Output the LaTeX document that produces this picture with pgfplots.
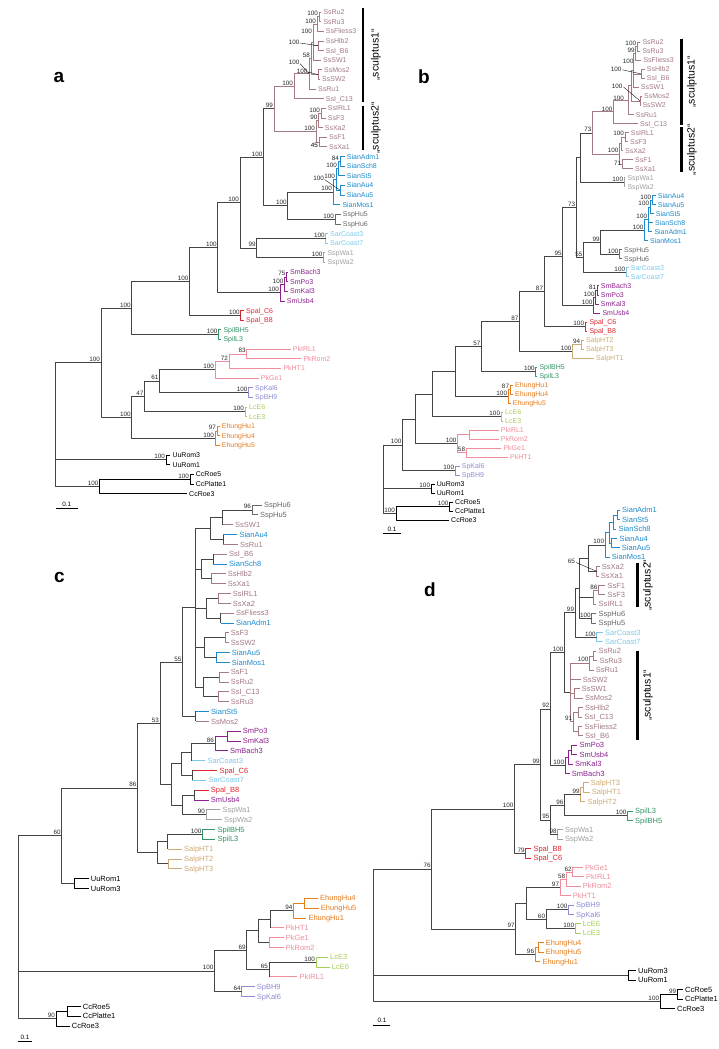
\documentclass[border=0pt]{standalone}
\usepackage{pgfplots}
\pgfplotsset{compat=1.18}
\usepackage{fontspec}
\setmainfont{Liberation Sans}
\definecolor{cSs}{RGB}{163,122,130}
\definecolor{cSian}{RGB}{28,138,204}
\definecolor{cHu}{RGB}{105,105,105}
\definecolor{cWa}{RGB}{160,160,160}
\definecolor{cSar}{RGB}{125,200,235}
\definecolor{cSm}{RGB}{140,32,140}
\definecolor{cSpal}{RGB}{226,36,46}
\definecolor{cSpil}{RGB}{48,150,100}
\definecolor{cPk}{RGB}{240,140,155}
\definecolor{cSp}{RGB}{140,140,210}
\definecolor{cLc}{RGB}{165,205,90}
\definecolor{cEh}{RGB}{232,125,30}
\definecolor{cSalp}{RGB}{205,170,115}
\definecolor{cInt}{RGB}{68,68,68}
\newcommand\fa{\fontsize{7}{8}\selectfont}
\newcommand\fc{\fontsize{7.5}{9}\selectfont}
\newcommand\fb{\fontsize{6.3}{7}\selectfont}
\newcommand{\la}[4]{\node[anchor=base west,inner sep=0pt,yshift=-2.5pt,font=\fa,text=#4] at (axis cs:#1,#2) {#3};}
\newcommand{\lc}[4]{\node[anchor=base west,inner sep=0pt,yshift=-2.7pt,font=\fc,text=#4] at (axis cs:#1,#2) {#3};}
\newcommand{\bs}[3]{\node[anchor=south east,inner sep=0pt,font=\fb,text=black!85] at (axis cs:#1,#2) {#3};}
\begin{document}
\begin{tikzpicture}
\begin{axis}[at={(0,0)},anchor=south west,width=719pt,height=1049pt,scale only axis,
 xmin=0,xmax=719,ymin=0,ymax=1049,y dir=reverse,hide axis,clip=false,unbounded coords=jump,
 every axis plot/.append style={line width=0.75pt,line join=round}]
% ================= PANEL A =================
\addplot[cSs] coordinates {
(321.3,12.0) (319,12.0) (319,21.6) (321.3,21.6) (nan,nan)
(319,16.8) (317,16.8) (317,31.3) (323.7,31.3) (nan,nan)
(323.7,40.9) (318,40.9) (318,50.5) (323.7,50.5) (nan,nan)
(317,24.1) (313,24.1) (313,60.2) (321,60.2) (nan,nan)
(313,45.7) (318,45.7) (nan,nan)
(322,69.8) (318,69.8) (318,79.4) (320,79.4) (nan,nan)
(313,42.2) (311,42.2) (311,74.6) (318,74.6) (nan,nan)
(311,58.4) (309,58.4) (309,89.0) (316,89.0) (nan,nan)
(309,73.7) (294,73.7) (294,98.7) (323.7,98.7) (nan,nan)
(325.7,108.3) (321,108.3) (321,117.9) (325.7,117.9) (nan,nan)
(321,113.1) (318.5,113.1) (318.5,127.6) (322.7,127.6) (nan,nan)
(327,137.2) (319,137.2) (319,146.8) (327,146.8) (nan,nan)
(318.5,120.4) (316,120.4) (316,142) (319,142) (nan,nan)
(294,86.2) (274,86.2) (274,131.2) (316,131.2)
};
\addplot[cSian] coordinates {
(344.7,156.5) (340,156.5) (340,166.1) (344.7,166.1) (nan,nan)
(340,161.3) (338,161.3) (338,175.7) (344.7,175.7) (nan,nan)
(344.7,185.3) (340,185.3) (340,195.0) (344.7,195.0) (nan,nan)
(338,168.5) (336,168.5) (336,190.2) (340,190.2) (nan,nan)
(336,179.4) (333,179.4) (333,204.6) (340.3,204.6)
};
\addplot[cHu] coordinates {(340.7,214.2) (335,214.2) (335,223.9) (340.7,223.9)};
\addplot[cSar] coordinates {(328,233.5) (325.7,233.5) (325.7,243.1) (328,243.1)};
\addplot[cWa] coordinates {(325.3,252.8) (323.3,252.8) (323.3,262.4) (325.3,262.4)};
\addplot[cSm] coordinates {
(288,272.0) (286.5,272.0) (286.5,281.7) (288,281.7) (nan,nan)
(286.5,276.9) (284.5,276.9) (284.5,291.3) (288,291.3) (nan,nan)
(284.5,284.1) (280,284.1) (280,300.9) (284.7,300.9)
};
\addplot[cSpal] coordinates {(244,310.6) (240.7,310.6) (240.7,320.2) (244,320.2)};
\addplot[cSpil] coordinates {(221.3,329.8) (218.3,329.8) (218.3,339.4) (221.3,339.4)};
\addplot[cPk] coordinates {
(290.7,349.1) (246.7,349.1) (246.7,358.7) (301.3,358.7) (nan,nan)
(246.7,353.9) (229,353.9) (229,368.3) (281.3,368.3) (nan,nan)
(229,361.1) (215,361.1) (215,378.0) (258.7,378.0)
};
\addplot[cSp] coordinates {(253,387.6) (248.3,387.6) (248.3,397.2) (253,397.2)};
\addplot[cLc] coordinates {(247,406.9) (245,406.9) (245,416.5) (247,416.5)};
\addplot[cEh] coordinates {
(219.7,426.1) (217,426.1) (217,435.8) (219.7,435.8) (nan,nan)
(217,431.0) (215,431.0) (215,445.4) (219.7,445.4)
};
\addplot[cInt] coordinates {
(274,108.7) (263.3,108.7) (263.3,205.6) (287.7,205.6) (nan,nan)
(333,192.0) (287.7,192.0) (287.7,219.1) (335,219.1) (nan,nan)
(263.3,157.2) (240,157.2) (240,248.0) (256.7,248.0) (nan,nan)
(325.7,238.3) (256.7,238.3) (256.7,257.6) (323.3,257.6) (nan,nan)
(240,202.6) (217.7,202.6) (217.7,292.5) (280,292.5) (nan,nan)
(217.7,247.6) (189.3,247.6) (189.3,315.4) (240.7,315.4) (nan,nan)
(189.3,281.5) (131.7,281.5) (131.7,334.6) (218.3,334.6) (nan,nan)
(131.7,308.1) (101,308.1) (101,417.3) (131.7,417.3) (nan,nan)
(144.3,396.4) (131.7,396.4) (131.7,438.2) (215,438.2) (nan,nan)
(159.3,381.0) (144.3,381.0) (144.3,411.7) (245,411.7) (nan,nan)
(215,369.6) (159.3,369.6) (159.3,392.4) (248.3,392.4) (nan,nan)
(101,362.7) (55.7,362.7) (55.7,486.3) (99.3,486.3) (nan,nan)
(55.7,459.8) (166,459.8)
};
\addplot[black] coordinates {
(190,479.1) (99.3,479.1) (99.3,493.5) (187,493.5) (nan,nan)
(193.7,474.3) (190,474.3) (190,483.9) (193.7,483.9) (nan,nan)
(170.3,455.0) (166,455.0) (166,464.6) (170.3,464.6) (nan,nan)
(55.7,508.3) (77.7,508.3)
};
\addplot[black,line width=0.35pt] coordinates {
(300,43) (318,45.7) (nan,nan) (300,63.5) (309,73.7) (nan,nan)
(308,72) (318,74.6) (nan,nan) (324.5,179.5) (340,190.2)
};
\addplot[black,line width=2.6pt] coordinates {(363,8) (363,102) (nan,nan) (363,106) (363,150)};
\node[rotate=90,font=\fontsize{10.5}{11}\selectfont] at (axis cs:376,55) {„sculptus1“};
\node[rotate=90,font=\fontsize{10.5}{11}\selectfont] at (axis cs:376,128) {„sculptus2“};
\node[font=\fontsize{19}{19}\bfseries\selectfont] at (axis cs:59,77) {a};
\node[font=\fb] at (axis cs:66.7,504) {0.1};
\la{323.3}{12.0}{SsRu2}{cSs}\la{323.3}{21.6}{SsRu3}{cSs}\la{325.7}{31.3}{SsFliess3}{cSs}
\la{325.7}{40.9}{SsHlb2}{cSs}\la{325.7}{50.5}{SsI\_B6}{cSs}\la{323}{60.2}{SsSW1}{cSs}
\la{324}{69.8}{SsMos2}{cSs}\la{322}{79.4}{SsSW2}{cSs}\la{318}{89.0}{SsRu1}{cSs}
\la{325.7}{98.7}{SsI\_C13}{cSs}\la{327.7}{108.3}{SsIRL1}{cSs}\la{327.7}{117.9}{SsF3}{cSs}
\la{324.7}{127.6}{SsXa2}{cSs}\la{329}{137.2}{SsF1}{cSs}\la{329}{146.8}{SsXa1}{cSs}
\la{346.7}{156.5}{SianAdm1}{cSian}\la{346.7}{166.1}{SianSch8}{cSian}\la{346.7}{175.7}{SianSt5}{cSian}
\la{346.7}{185.3}{SianAu4}{cSian}\la{346.7}{195.0}{SianAu5}{cSian}\la{342.3}{204.6}{SianMos1}{cSian}
\la{342.7}{214.2}{SspHu5}{cHu}\la{342.7}{223.9}{SspHu6}{cHu}
\la{330}{233.5}{SarCoast3}{cSar}\la{330}{243.1}{SarCoast7}{cSar}
\la{327.3}{252.8}{SspWa1}{cWa}\la{327.3}{262.4}{SspWa2}{cWa}
\la{290}{272.0}{SmBach3}{cSm}\la{290}{281.7}{SmPo3}{cSm}\la{290}{291.3}{SmKal3}{cSm}\la{286.7}{300.9}{SmUsb4}{cSm}
\la{246}{310.6}{Spal\_C6}{cSpal}\la{246}{320.2}{Spal\_B8}{cSpal}
\la{223.3}{329.8}{SpilBH5}{cSpil}\la{223.3}{339.4}{SpilL3}{cSpil}
\la{292.7}{349.1}{PkIRL1}{cPk}\la{303.3}{358.7}{PkRom2}{cPk}\la{283.3}{368.3}{PkHT1}{cPk}\la{260.7}{378.0}{PkGe1}{cPk}
\la{255}{387.6}{SpKal6}{cSp}\la{255}{397.2}{SpBH9}{cSp}
\la{249}{406.9}{LcE6}{cLc}\la{249}{416.5}{LcE3}{cLc}
\la{221.7}{426.1}{EhungHu1}{cEh}\la{221.7}{435.8}{EhungHu4}{cEh}\la{221.7}{445.4}{EhungHu5}{cEh}
\la{172.3}{455.0}{UuRom3}{black}\la{172.3}{464.6}{UuRom1}{black}
\la{195.7}{474.3}{CcRoe5}{black}\la{195.7}{483.9}{CcPlatte1}{black}\la{189}{493.5}{CcRoe3}{black}
\bs{318.2}{16.0}{100}\bs{316.2}{23.3}{100}\bs{299.5}{45}{100}\bs{312.2}{34}{100}\bs{310.2}{57.6}{58}
\bs{299.5}{65}{100}\bs{307.5}{73.5}{100}\bs{293.2}{85.4}{100}\bs{320.2}{112.3}{100}\bs{317.7}{119.6}{90}
\node[anchor=north east,inner sep=0pt,font=\fb] at (axis cs:318.2,142.8) {45};
\bs{315.2}{130.4}{100}\bs{273.2}{107.9}{99}\bs{339.2}{160.5}{84}\bs{337.2}{167.7}{100}\bs{324}{181}{100}
\bs{335.2}{178.6}{100}\bs{332.2}{191.2}{100}\bs{334.2}{218.3}{100}\bs{286.9}{204.8}{100}\bs{262.5}{156.4}{100}
\bs{324.9}{237.5}{100}\bs{322.5}{256.8}{100}\bs{255.9}{247.2}{99}\bs{239.2}{201.8}{100}
\bs{285.7}{276.1}{75}\bs{283.7}{283.3}{100}\bs{279.2}{291.7}{100}\bs{216.9}{246.8}{100}\bs{239.9}{314.6}{100}
\bs{188.5}{280.7}{100}\bs{217.5}{333.8}{100}\bs{130.9}{307.3}{100}\bs{245.9}{353.1}{83}\bs{228.2}{360.3}{72}
\bs{214.2}{368.8}{100}\bs{247.5}{391.6}{100}\bs{158.5}{380.2}{61}\bs{244.2}{410.9}{100}\bs{143.5}{395.6}{47}
\bs{216.2}{430.2}{97}\bs{214.2}{437.4}{100}\bs{130.9}{416.5}{100}\bs{100.2}{361.9}{100}\bs{165.2}{459}{100}
\bs{189.2}{478.3}{100}\bs{98.5}{485.5}{100}
% ================= PANEL B =================
\addplot[cSs] coordinates {
(640.3,42.3) (637,42.3) (637,51.3) (640.3,51.3) (nan,nan)
(637,46.8) (635.5,46.8) (635.5,60.3) (641.3,60.3) (nan,nan)
(644.7,69.4) (641,69.4) (641,78.4) (644.7,78.4) (nan,nan)
(635.5,53.6) (633.5,53.6) (633.5,87.4) (638.7,87.4) (nan,nan)
(633.5,73.9) (641,73.9) (nan,nan)
(642,96.4) (640,96.4) (640,105.4) (640.3,105.4) (nan,nan)
(633.5,70.5) (631,70.5) (631,100.9) (640,100.9) (nan,nan)
(631,85.7) (628,85.7) (628,114.5) (633.7,114.5) (nan,nan)
(628,100.1) (613.3,100.1) (613.3,123.5) (638,123.5) (nan,nan)
(628.7,132.5) (625,132.5) (625,141.5) (628,141.5) (nan,nan)
(625,137) (621,137) (621,150.5) (623,150.5) (nan,nan)
(633,159.6) (622,159.6) (622,168.6) (633,168.6) (nan,nan)
(621,143.8) (619.3,143.8) (619.3,164.1) (622,164.1) (nan,nan)
(613.3,111.8) (592.3,111.8) (592.3,154.0) (619.3,154.0)
};
\addplot[cWa] coordinates {(625.3,177.6) (624,177.6) (624,186.6) (625.3,186.6)};
\addplot[cSian] coordinates {
(655.7,195.6) (652,195.6) (652,204.7) (655.7,204.7) (nan,nan)
(652,200.2) (650,200.2) (650,213.7) (653.7,213.7) (nan,nan)
(650,207) (648,207) (648,231.7) (652.3,231.7) (nan,nan)
(648,222.7) (653,222.7) (nan,nan)
(648,219.4) (644.3,219.4) (644.3,240.7) (648,240.7)
};
\addplot[cHu] coordinates {(622,249.8) (619.3,249.8) (619.3,258.8) (622,258.8)};
\addplot[cSar] coordinates {(628.7,267.8) (626,267.8) (626,276.8) (628.7,276.8)};
\addplot[cSm] coordinates {
(598.7,285.8) (597,285.8) (597,294.9) (598.7,294.9) (nan,nan)
(597,290.4) (595.5,290.4) (595.5,303.9) (598.7,303.9) (nan,nan)
(595.5,297.2) (593.3,297.2) (593.3,312.9) (600.3,312.9)
};
\addplot[cSpal] coordinates {(587.3,321.9) (585,321.9) (585,330.9) (587.3,330.9)};
\addplot[cSalp] coordinates {
(584,340) (581,340) (581,349) (584,349) (nan,nan)
(581,344.5) (572.3,344.5) (572.3,358) (594,358)
};
\addplot[cSpil] coordinates {(537.3,367) (535.7,367) (535.7,376) (537.3,376)};
\addplot[cEh] coordinates {
(513,385.1) (510,385.1) (510,394.1) (513,394.1) (nan,nan)
(510,389.6) (508,389.6) (508,403.1) (510.7,403.1)
};
\addplot[cLc] coordinates {(503,412.1) (501,412.1) (501,421.1) (503,421.1)};
\addplot[cPk] coordinates {
(498.7,430.2) (469,430.2) (469,439.2) (498.7,439.2) (nan,nan)
(501.3,448.2) (466,448.2) (466,457.2) (508,457.2) (nan,nan)
(469,434.7) (457.3,434.7) (457.3,452.7) (466,452.7)
};
\addplot[cSp] coordinates {(459.7,466.2) (455,466.2) (455,475.3) (459.7,475.3)};
\addplot[cInt] coordinates {
(592.3,132.9) (580,132.9) (580,182.1) (624,182.1) (nan,nan)
(644.3,230.1) (600.7,230.1) (600.7,254.3) (619.3,254.3) (nan,nan)
(600.7,242.2) (583.3,242.2) (583.3,272.3) (626,272.3) (nan,nan)
(580,157.5) (576,157.5) (576,257.3) (583.3,257.3) (nan,nan)
(576,207.4) (562.7,207.4) (562.7,305.1) (593.3,305.1) (nan,nan)
(562.7,256.3) (544,256.3) (544,326.4) (585,326.4) (nan,nan)
(544,291.4) (519.3,291.4) (519.3,351.3) (572.3,351.3) (nan,nan)
(519.3,321.4) (481.3,321.4) (481.3,371.5) (535.7,371.5) (nan,nan)
(481.3,346.5) (455,346.5) (455,396.4) (508,396.4) (nan,nan)
(455,371.5) (432.7,371.5) (432.7,416.6) (501,416.6) (nan,nan)
(432.7,394.1) (415,394.1) (415,443.7) (457.3,443.7) (nan,nan)
(415,418.9) (402.3,418.9) (402.3,470.8) (455,470.8) (nan,nan)
(402.3,444.9) (383,444.9) (383,513.6) (396,513.6) (nan,nan)
(383,488.8) (431,488.8)
};
\addplot[black] coordinates {
(449.3,506.8) (396,506.8) (396,520.4) (449,520.4) (nan,nan)
(453,502.3) (449.3,502.3) (449.3,511.3) (453,511.3) (nan,nan)
(434.7,484.3) (431,484.3) (431,493.3) (434.7,493.3) (nan,nan)
(383,533) (401,533)
};
\addplot[black,line width=0.35pt] coordinates {(622.5,69.8) (641,73.9) (nan,nan) (623.5,87) (640,100.9)};
\addplot[black,line width=2.6pt] coordinates {(681.7,39) (681.7,125) (nan,nan) (681.7,127.3) (681.7,171.7)};
\node[rotate=90,font=\fontsize{10.5}{11}\selectfont] at (axis cs:692,82) {„sculptus1“};
\node[rotate=90,font=\fontsize{10.5}{11}\selectfont] at (axis cs:692,149.5) {„sculptus2“};
\node[font=\fontsize{19}{19}\bfseries\selectfont] at (axis cs:424,77) {b};
\node[font=\fb] at (axis cs:392,529) {0.1};
\la{642.3}{42.3}{SsRu2}{cSs}\la{642.3}{51.3}{SsRu3}{cSs}\la{643.3}{60.3}{SsFliess3}{cSs}
\la{646.7}{69.4}{SsHlb2}{cSs}\la{646.7}{78.4}{SsI\_B6}{cSs}\la{640.7}{87.4}{SsSW1}{cSs}
\la{644}{96.4}{SsMos2}{cSs}\la{642.3}{105.4}{SsSW2}{cSs}\la{635.7}{114.5}{SsRu1}{cSs}
\la{640}{123.5}{SsI\_C13}{cSs}\la{630.7}{132.5}{SsIRL1}{cSs}\la{630}{141.5}{SsF3}{cSs}
\la{625}{150.5}{SsXa2}{cSs}\la{635}{159.6}{SsF1}{cSs}\la{635}{168.6}{SsXa1}{cSs}
\la{627.3}{177.6}{SspWa1}{cWa}\la{627.3}{186.6}{SspWa2}{cWa}
\la{657.7}{195.6}{SianAu4}{cSian}\la{657.7}{204.7}{SianAu5}{cSian}\la{655.7}{213.7}{SianSt5}{cSian}
\la{655}{222.7}{SianSch8}{cSian}\la{654.3}{231.7}{SianAdm1}{cSian}\la{650}{240.7}{SianMos1}{cSian}
\la{624}{249.8}{SspHu5}{cHu}\la{624}{258.8}{SspHu6}{cHu}
\la{630.7}{267.8}{SarCoast3}{cSar}\la{630.7}{276.8}{SarCoast7}{cSar}
\la{600.7}{285.8}{SmBach3}{cSm}\la{600.7}{294.9}{SmPo3}{cSm}\la{600.7}{303.9}{SmKal3}{cSm}\la{602.3}{312.9}{SmUsb4}{cSm}
\la{589.3}{321.9}{Spal\_C6}{cSpal}\la{589.3}{330.9}{Spal\_B8}{cSpal}
\la{586}{340}{SalpHT2}{cSalp}\la{586}{349}{SalpHT3}{cSalp}\la{596}{358}{SalpHT1}{cSalp}
\la{539.3}{367}{SpilBH5}{cSpil}\la{539.3}{376}{SpilL3}{cSpil}
\la{515}{385.1}{EhungHu1}{cEh}\la{515}{394.1}{EhungHu4}{cEh}\la{512.7}{403.1}{EhungHu5}{cEh}
\la{505}{412.1}{LcE6}{cLc}\la{505}{421.1}{LcE3}{cLc}
\la{500.7}{430.2}{PkIRL1}{cPk}\la{500.7}{439.2}{PkRom2}{cPk}\la{503.3}{448.2}{PkGe1}{cPk}\la{510}{457.2}{PkHT1}{cPk}
\la{461.7}{466.2}{SpKal6}{cSp}\la{461.7}{475.3}{SpBH9}{cSp}
\la{436.7}{484.3}{UuRom3}{black}\la{436.7}{493.3}{UuRom1}{black}
\la{455}{502.3}{CcRoe5}{black}\la{455}{511.3}{CcPlatte1}{black}\la{451}{520.4}{CcRoe3}{black}
\bs{636.2}{46.0}{100}\bs{634.7}{52.8}{99}\bs{621.5}{71.5}{100}\bs{633.7}{63.5}{100}\bs{622.5}{88.5}{100}
\bs{624}{101.2}{100}\bs{612.5}{111.5}{100}\bs{624}{135.8}{100}\bs{618.5}{153.2}{100}\bs{621.2}{166}{71}
\bs{591.5}{132.1}{73}\bs{623.2}{181.3}{100}\bs{651.2}{199.4}{100}\bs{649.2}{206.2}{100}\bs{647.2}{218.6}{100}
\bs{643.5}{229.3}{100}\bs{618.5}{253.5}{100}\bs{599.9}{241.4}{99}\bs{625.2}{271.5}{100}\bs{582.5}{256.5}{55}
\bs{575.2}{206.6}{73}\bs{596.2}{289.6}{81}\bs{594.7}{296.4}{100}\bs{592.5}{304.3}{100}\bs{561.9}{255.5}{95}
\bs{584.2}{325.6}{100}\bs{543.2}{290.6}{87}\bs{580.2}{343.7}{94}\bs{571.5}{350.5}{100}\bs{518.5}{320.6}{87}
\bs{534.9}{370.7}{100}\bs{480.5}{345.7}{57}\bs{509.2}{388.8}{87}\bs{507.2}{395.6}{100}\bs{500.2}{415.8}{100}
\bs{465.2}{451.9}{58}\bs{456.5}{442.9}{100}\bs{454.2}{470}{100}\bs{401.5}{444.1}{100}\bs{430.2}{488}{100}
\bs{448.5}{506}{100}\bs{395.2}{512.8}{100}
% ================= PANEL C =================
\addplot[cHu] coordinates {(262,505.0) (252,505.0) (252,514.8) (258,514.8)};
\addplot[cSs] coordinates {
(222,524.7) (233,524.7) (nan,nan) (223.3,544.3) (238,544.3) (nan,nan)
(213.3,554.2) (227,554.2) (nan,nan) (220.7,613.1) (234,613.1) (nan,nan)
(195.7,721.3) (209,721.3) (nan,nan)
(225.7,573.8) (211.7,573.8) (211.7,583.6) (225.7,583.6) (nan,nan)
(230.7,593.5) (218.3,593.5) (218.3,603.3) (230.7,603.3) (nan,nan)
(228.7,632.8) (225,632.8) (225,642.6) (228.7,642.6) (nan,nan)
(228.7,672.1) (219.3,672.1) (219.3,681.9) (228.7,681.9) (nan,nan)
(228.7,691.8) (218.3,691.8) (218.3,701.6) (228.7,701.6)
};
\addplot[cSian] coordinates {
(223.3,534.5) (237.3,534.5) (nan,nan) (213.3,564.0) (227,564.0) (nan,nan)
(220.7,623.0) (234,623.0) (nan,nan) (195.7,711.4) (209,711.4) (nan,nan)
(229.7,652.5) (216.7,652.5) (216.7,662.3) (229.7,662.3)
};
\addplot[cSm] coordinates {
(240.7,731.1) (227.3,731.1) (227.3,740.9) (240.7,740.9) (nan,nan)
(227.3,736.0) (215,736.0) (215,750.8) (228,750.8) (nan,nan)
(194,799.9) (208.7,799.9)
};
\addplot[cSar] coordinates {(191.7,760.6) (205.3,760.6) (nan,nan) (192.3,780.2) (206.3,780.2)};
\addplot[cSpal] coordinates {(192.3,770.4) (217.3,770.4) (nan,nan) (194,790.1) (208.7,790.1)};
\addplot[cWa] coordinates {(220.3,809.7) (206,809.7) (206,819.6) (222,819.6)};
\addplot[cSpil] coordinates {(215.3,829.4) (202.3,829.4) (202.3,839.2) (215.3,839.2)};
\addplot[cSalp] coordinates {(167.7,849.0) (182,849.0) (nan,nan) (182,858.9) (168.3,858.9) (168.3,868.7) (182,868.7)};
\addplot[cEh] coordinates {
(318,898.2) (304.3,898.2) (304.3,908.0) (318.7,908.0) (nan,nan)
(304.3,903.1) (293.3,903.1) (293.3,917.9) (306.3,917.9)
};
\addplot[cPk] coordinates {
(270.7,927.7) (283.7,927.7) (nan,nan)
(283.7,937.5) (269.3,937.5) (269.3,947.3) (283.7,947.3) (nan,nan)
(269,976.8) (297.3,976.8)
};
\addplot[cLc] coordinates {(328,957.2) (316,957.2) (316,967.0) (329.7,967.0)};
\addplot[cSp] coordinates {(254.7,986.7) (241.7,986.7) (241.7,996.5) (254.7,996.5)};
\addplot[black] coordinates {
(88.7,878.5) (74.3,878.5) (74.3,888.4) (88.7,888.4) (nan,nan)
(80.7,1006.3) (67.7,1006.3) (67.7,1016.2) (80.7,1016.2) (nan,nan)
(67.7,1011.3) (56,1011.3) (56,1026.0) (69.7,1026.0) (nan,nan)
(18,1041.7) (32,1041.7)
};
\addplot[cInt] coordinates {
(223.3,534.5) (223.3,544.3) (nan,nan) (213.3,554.2) (213.3,564.0) (nan,nan)
(220.7,613.1) (220.7,623.0) (nan,nan) (195.7,711.4) (195.7,721.3) (nan,nan)
(192.3,770.4) (192.3,780.2) (nan,nan) (194,790.1) (194,799.9) (nan,nan)
(252,509.9) (222,509.9) (222,524.7) (nan,nan)
(222,517.3) (210,517.3) (210,539.4) (223.3,539.4) (nan,nan)
(213.3,559.1) (201.7,559.1) (201.7,578.7) (211.7,578.7) (nan,nan)
(218.3,598.4) (206.7,598.4) (206.7,618.1) (220.7,618.1) (nan,nan)
(225,637.7) (204.3,637.7) (204.3,657.4) (216.7,657.4) (nan,nan)
(219.3,677.0) (203.3,677.0) (203.3,696.7) (218.3,696.7) (nan,nan)
(210,528.4) (195,528.4) (195,686.9) (203.3,686.9) (nan,nan)
(195,568.9) (201.7,568.9) (nan,nan) (195,608.3) (206.7,608.3) (nan,nan) (195,647.6) (204.3,647.6) (nan,nan)
(195,607.7) (182.3,607.7) (182.3,716.4) (195.7,716.4) (nan,nan)
(215,743.4) (191.7,743.4) (191.7,760.6) (nan,nan)
(191.7,752.0) (181.7,752.0) (181.7,775.3) (192.3,775.3) (nan,nan)
(194,795.0) (182.3,795.0) (182.3,814.7) (206,814.7) (nan,nan)
(181.7,763.7) (171.7,763.7) (171.7,804.9) (182.3,804.9) (nan,nan)
(182.3,662.1) (160,662.1) (160,784.3) (171.7,784.3) (nan,nan)
(202.3,834.3) (167.7,834.3) (167.7,849.0) (nan,nan)
(167.7,841.7) (157.3,841.7) (157.3,863.8) (168.3,863.8) (nan,nan)
(160,723.2) (137.3,723.2) (137.3,852.8) (157.3,852.8) (nan,nan)
(137.3,788.0) (61.7,788.0) (61.7,883.5) (74.3,883.5) (nan,nan)
(293.3,910.5) (270.7,910.5) (270.7,927.7) (nan,nan)
(270.7,919.1) (258.3,919.1) (258.3,942.4) (269.3,942.4) (nan,nan)
(316,962.1) (269,962.1) (269,976.8) (nan,nan)
(258.3,930.8) (246.7,930.8) (246.7,969.5) (269,969.5) (nan,nan)
(246.7,950.2) (214.3,950.2) (214.3,991.6) (241.7,991.6) (nan,nan)
(61.7,835.8) (18,835.8) (18,1018.7) (56,1018.7) (nan,nan)
(18,970.9) (214.3,970.9)
};
\node[font=\fontsize{19}{19}\bfseries\selectfont] at (axis cs:59.3,577.3) {c};
\node[font=\fb] at (axis cs:25,1037.5) {0.1};
\lc{264}{505.0}{SspHu6}{cHu}\lc{260}{514.8}{SspHu5}{cHu}\lc{235}{524.7}{SsSW1}{cSs}
\lc{239.3}{534.5}{SianAu4}{cSian}\lc{240}{544.3}{SsRu1}{cSs}\lc{229}{554.2}{SsI\_B6}{cSs}
\lc{229}{564.0}{SianSch8}{cSian}\lc{227.7}{573.8}{SsHlb2}{cSs}\lc{227.7}{583.6}{SsXa1}{cSs}
\lc{232.7}{593.5}{SsIRL1}{cSs}\lc{232.7}{603.3}{SsXa2}{cSs}\lc{236}{613.1}{SsFliess3}{cSs}
\lc{236}{623.0}{SianAdm1}{cSian}\lc{230.7}{632.8}{SsF3}{cSs}\lc{230.7}{642.6}{SsSW2}{cSs}
\lc{231.7}{652.5}{SianAu5}{cSian}\lc{231.7}{662.3}{SianMos1}{cSian}\lc{230.7}{672.1}{SsF1}{cSs}
\lc{230.7}{681.9}{SsRu2}{cSs}\lc{230.7}{691.8}{SsI\_C13}{cSs}\lc{230.7}{701.6}{SsRu3}{cSs}
\lc{211}{711.4}{SianSt5}{cSian}\lc{211}{721.3}{SsMos2}{cSs}
\lc{242.7}{731.1}{SmPo3}{cSm}\lc{242.7}{740.9}{SmKal3}{cSm}\lc{230}{750.8}{SmBach3}{cSm}
\lc{207.3}{760.6}{SarCoast3}{cSar}\lc{219.3}{770.4}{Spal\_C6}{cSpal}\lc{208.3}{780.2}{SarCoast7}{cSar}
\lc{210.7}{790.1}{Spal\_B8}{cSpal}\lc{210.7}{799.9}{SmUsb4}{cSm}
\lc{222.3}{809.7}{SspWa1}{cWa}\lc{224}{819.6}{SspWa2}{cWa}
\lc{217.3}{829.4}{SpilBH5}{cSpil}\lc{217.3}{839.2}{SpilL3}{cSpil}
\lc{184}{849.0}{SalpHT1}{cSalp}\lc{184}{858.9}{SalpHT2}{cSalp}\lc{184}{868.7}{SalpHT3}{cSalp}
\lc{90.7}{878.5}{UuRom1}{black}\lc{90.7}{888.4}{UuRom3}{black}
\lc{320}{898.2}{EhungHu4}{cEh}\lc{320.7}{908.0}{EhungHu5}{cEh}\lc{308.3}{917.9}{EhungHu1}{cEh}
\lc{285.7}{927.7}{PkHT1}{cPk}\lc{285.7}{937.5}{PkGe1}{cPk}\lc{285.7}{947.3}{PkRom2}{cPk}
\lc{330}{957.2}{LcE3}{cLc}\lc{331.7}{967.0}{LcE6}{cLc}\lc{299.3}{976.8}{PkIRL1}{cPk}
\lc{256.7}{986.7}{SpBH9}{cSp}\lc{256.7}{996.5}{SpKal6}{cSp}
\lc{82.7}{1006.3}{CcRoe5}{black}\lc{82.7}{1016.2}{CcPlatte1}{black}\lc{71.7}{1026.0}{CcRoe3}{black}
\bs{251.2}{509.1}{96}\bs{181.5}{661.3}{55}\bs{214.2}{742.6}{86}\bs{205.2}{813.9}{90}\bs{159.2}{722.4}{53}
\bs{201.5}{833.5}{100}\bs{136.5}{787.2}{86}\bs{60.9}{835}{60}\bs{292.5}{909.7}{94}\bs{315.2}{961.3}{100}
\bs{268.2}{968.7}{65}\bs{245.9}{949.4}{69}\bs{240.9}{990.8}{64}\bs{213.5}{970.1}{100}\bs{55.2}{1017.9}{90}
% ================= PANEL D =================
\addplot[cSian] coordinates {
(620,510.2) (617,510.2) (617,519.6) (620,519.6) (nan,nan)
(617,514.9) (613,514.9) (613,529.0) (616.3,529.0) (nan,nan)
(617.3,538.4) (611.7,538.4) (611.7,547.8) (619.7,547.8) (nan,nan)
(613,522.0) (609.5,522.0) (609.5,543.1) (611.7,543.1) (nan,nan)
(609.5,532.6) (605,532.6) (605,557.2) (609.7,557.2)
};
\addplot[cSs] coordinates {
(599.7,566.6) (596.7,566.6) (596.7,576.0) (598.7,576.0) (nan,nan)
(605.3,585.4) (598.3,585.4) (598.3,594.8) (605.3,594.8) (nan,nan)
(598.3,590.1) (593.3,590.1) (593.3,604.2) (596.3,604.2) (nan,nan)
(596.3,651.2) (593.3,651.2) (593.3,660.6) (597.3,660.6) (nan,nan)
(593.3,655.9) (589.3,655.9) (589.3,670.0) (593.7,670.0) (nan,nan)
(579.7,688.8) (574.3,688.8) (574.3,698.2) (583,698.2) (nan,nan)
(583,707.6) (578,707.6) (578,717.0) (582.3,717.0) (nan,nan)
(582.3,726.4) (578,726.4) (578,735.8) (583,735.8) (nan,nan)
(578,712.3) (573,712.3) (573,731.1) (578,731.1) (nan,nan)
(589.3,663.0) (570,663.0) (570,721.7) (573,721.7) (nan,nan)
(570,679.4) (580.7,679.4) (nan,nan) (570,693.5) (574.3,693.5)
};
\addplot[cHu] coordinates {(596.3,613.6) (591.7,613.6) (591.7,623.0) (596.3,623.0)};
\addplot[cSar] coordinates {(603,632.4) (596.7,632.4) (596.7,641.8) (603,641.8)};
\addplot[cSm] coordinates {
(577.3,745.2) (571.7,745.2) (571.7,754.6) (577.3,754.6) (nan,nan)
(571.7,749.9) (568,749.9) (568,764.0) (573,764.0) (nan,nan)
(568,757.0) (565,757.0) (565,773.4) (569.7,773.4)
};
\addplot[cSalp] coordinates {
(588.7,782.8) (583,782.8) (583,792.2) (589.7,792.2) (nan,nan)
(583,787.5) (580.7,787.5) (580.7,801.6) (585.3,801.6)
};
\addplot[cSpil] coordinates {(633,811.0) (627.3,811.0) (627.3,820.4) (633,820.4)};
\addplot[cWa] coordinates {(563,829.8) (557.7,829.8) (557.7,839.2) (563,839.2)};
\addplot[cSpal] coordinates {(531.3,848.6) (525.7,848.6) (525.7,858.0) (531.3,858.0)};
\addplot[cPk] coordinates {
(583,867.4) (572.7,867.4) (572.7,876.8) (584,876.8) (nan,nan)
(572.7,872.1) (566,872.1) (566,886.2) (580.7,886.2) (nan,nan)
(566,879.2) (560,879.2) (560,895.6) (570.7,895.6)
};
\addplot[cSp] coordinates {(574,905.0) (568.3,905.0) (568.3,914.4) (574,914.4)};
\addplot[cLc] coordinates {(580.7,923.8) (575,923.8) (575,933.2) (580.7,933.2)};
\addplot[cEh] coordinates {
(543.7,942.6) (538.5,942.6) (538.5,952.0) (543.7,952.0) (nan,nan)
(538.5,947.3) (535,947.3) (535,961.4) (540.3,961.4)
};
\addplot[cInt] coordinates {
(605,544.9) (588.3,544.9) (588.3,571.3) (596.7,571.3) (nan,nan)
(588.3,558.1) (579.3,558.1) (579.3,618.3) (591.7,618.3) (nan,nan)
(579.3,597.2) (593.3,597.2) (nan,nan)
(579.3,588.2) (575,588.2) (575,637.1) (596.7,637.1) (nan,nan)
(575,612.7) (564.3,612.7) (564.3,692.4) (570,692.4) (nan,nan)
(564.3,652.6) (550.3,652.6) (550.3,765.2) (565,765.2) (nan,nan)
(580.7,794.6) (564.3,794.6) (564.3,815.7) (627.3,815.7) (nan,nan)
(564.3,805.2) (550.3,805.2) (550.3,834.5) (557.7,834.5) (nan,nan)
(550.3,708.9) (540.7,708.9) (540.7,819.9) (550.3,819.9) (nan,nan)
(540.7,764.4) (514.3,764.4) (514.3,853.3) (525.7,853.3) (nan,nan)
(560,887.4) (526.7,887.4) (526.7,919.1) (546,919.1) (nan,nan)
(568.3,909.7) (546,909.7) (546,928.5) (575,928.5) (nan,nan)
(526.7,903.3) (515.7,903.3) (515.7,954.4) (535,954.4) (nan,nan)
(514.3,808.9) (431.7,808.9) (431.7,928.9) (515.7,928.9) (nan,nan)
(431.7,868.9) (373.3,868.9) (373.3,1001.4) (660,1001.4) (nan,nan)
(373.3,975.5) (628,975.5)
};
\addplot[black] coordinates {
(636,970.8) (628,970.8) (628,980.2) (636,980.2) (nan,nan)
(683,989.6) (677,989.6) (677,999.0) (683,999.0) (nan,nan)
(677,994.3) (660,994.3) (660,1008.4) (675,1008.4) (nan,nan)
(373.3,1025) (390,1025)
};
\addplot[black,line width=0.35pt] coordinates {(576,562.5) (596.7,571.3)};
\addplot[black,line width=2.6pt] coordinates {(637.7,563.3) (637.7,607.3) (nan,nan) (637.7,650.7) (637.7,740)};
\node[rotate=90,font=\fontsize{10.5}{11}\selectfont] at (axis cs:648,585.3) {„sculptus2“};
\node[rotate=90,font=\fontsize{10.5}{11}\selectfont] at (axis cs:648,695.3) {„sculptus1“};
\node[font=\fontsize{19}{19}\bfseries\selectfont] at (axis cs:430,590) {d};
\node[font=\fb] at (axis cs:382,1020.5) {0.1};
\lc{622}{510.2}{SianAdm1}{cSian}\lc{622}{519.6}{SianSt5}{cSian}\lc{618.3}{529.0}{SianSch8}{cSian}
\lc{619.3}{538.4}{SianAu4}{cSian}\lc{621.7}{547.8}{SianAu5}{cSian}\lc{611.7}{557.2}{SianMos1}{cSian}
\lc{601.7}{566.6}{SsXa2}{cSs}\lc{600.7}{576.0}{SsXa1}{cSs}\lc{607.3}{585.4}{SsF1}{cSs}
\lc{607.3}{594.8}{SsF3}{cSs}\lc{598.3}{604.2}{SsIRL1}{cSs}
\lc{598.3}{613.6}{SspHu6}{cHu}\lc{598.3}{623.0}{SspHu5}{cHu}
\lc{605}{632.4}{SarCoast3}{cSar}\lc{605}{641.8}{SarCoast7}{cSar}
\lc{598.3}{651.2}{SsRu2}{cSs}\lc{599.3}{660.6}{SsRu3}{cSs}\lc{595.7}{670.0}{SsRu1}{cSs}
\lc{582.7}{679.4}{SsSW2}{cSs}\lc{581.7}{688.8}{SsSW1}{cSs}\lc{585}{698.2}{SsMos2}{cSs}
\lc{585}{707.6}{SsHlb2}{cSs}\lc{584.3}{717.0}{SsI\_C13}{cSs}\lc{584.3}{726.4}{SsFliess2}{cSs}
\lc{585}{735.8}{SsI\_B6}{cSs}
\lc{579.3}{745.2}{SmPo3}{cSm}\lc{579.3}{754.6}{SmUsb4}{cSm}\lc{575}{764.0}{SmKal3}{cSm}\lc{571.7}{773.4}{SmBach3}{cSm}
\lc{590.7}{782.8}{SalpHT3}{cSalp}\lc{591.7}{792.2}{SalpHT1}{cSalp}\lc{587.3}{801.6}{SalpHT2}{cSalp}
\lc{635}{811.0}{SpilL3}{cSpil}\lc{635}{820.4}{SpilBH5}{cSpil}
\lc{565}{829.8}{SspWa1}{cWa}\lc{565}{839.2}{SspWa2}{cWa}
\lc{533.3}{848.6}{Spal\_B8}{cSpal}\lc{533.3}{858.0}{Spal\_C6}{cSpal}
\lc{585}{867.4}{PkGe1}{cPk}\lc{586}{876.8}{PkIRL1}{cPk}\lc{582.7}{886.2}{PkRom2}{cPk}\lc{572.7}{895.6}{PkHT1}{cPk}
\lc{576}{905.0}{SpBH9}{cSp}\lc{576}{914.4}{SpKal6}{cSp}
\lc{582.7}{923.8}{LcE6}{cLc}\lc{582.7}{933.2}{LcE3}{cLc}
\lc{545.7}{942.6}{EhungHu4}{cEh}\lc{545.7}{952.0}{EhungHu5}{cEh}\lc{542.3}{961.4}{EhungHu1}{cEh}
\lc{638}{970.8}{UuRom3}{black}\lc{638}{980.2}{UuRom1}{black}
\lc{685}{989.6}{CcRoe5}{black}\lc{685}{999.0}{CcPlatte1}{black}\lc{677}{1008.4}{CcRoe3}{black}
\bs{604.2}{544.1}{100}\bs{575}{564.2}{65}\bs{597.5}{589.3}{86}\bs{590.9}{617.5}{100}\bs{595.9}{636.3}{100}
\bs{574.2}{611.9}{99}\bs{588.5}{662.2}{100}\bs{572.2}{720.9}{91}\bs{563.5}{651.8}{100}\bs{564.2}{764.4}{100}
\bs{549.5}{708.1}{92}\bs{579.9}{793.8}{99}\bs{626.5}{814.9}{100}\bs{563.5}{804.4}{96}\bs{556.9}{833.7}{98}
\bs{549.5}{819.1}{95}\bs{539.9}{763.6}{99}\bs{524.9}{852.5}{79}\bs{513.5}{808.1}{100}\bs{571.9}{871.3}{62}
\bs{565.2}{878.4}{58}\bs{559.2}{886.6}{97}\bs{567.5}{908.9}{100}\bs{574.2}{927.7}{100}\bs{545.2}{918.3}{60}
\bs{534.2}{953.6}{96}\bs{514.9}{928.1}{97}\bs{430.9}{868.1}{76}\bs{676.2}{993.5}{99}\bs{659.2}{1000.6}{100}
\end{axis}
\pgfresetboundingbox
\path (0,0) rectangle (719pt,1049pt);
\end{tikzpicture}
\end{document}
